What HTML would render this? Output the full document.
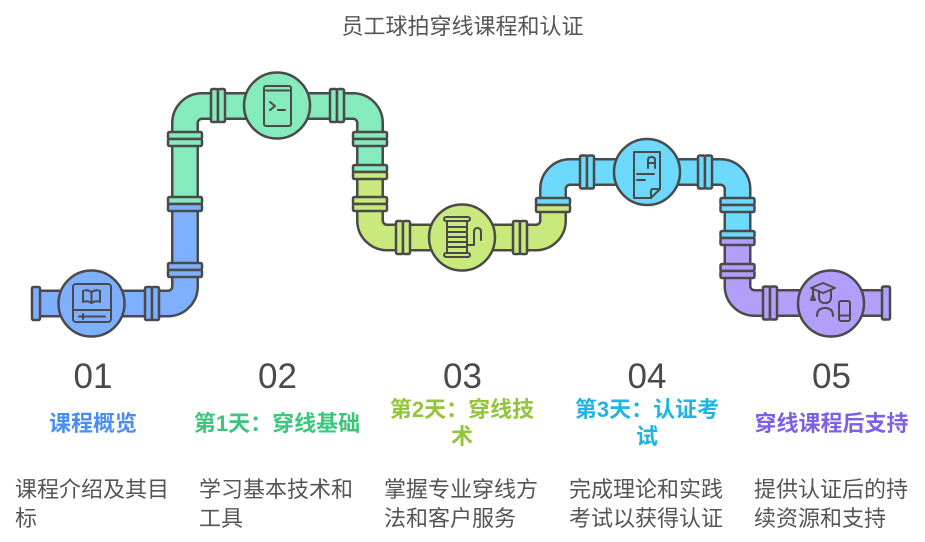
<!DOCTYPE html>
<html><head><meta charset="utf-8"><style>
html,body{margin:0;padding:0;background:#fff;}
body{width:925px;height:542px;position:relative;overflow:hidden;font-family:"Liberation Sans","Noto Sans CJK SC",sans-serif;}
.t{position:absolute;white-space:nowrap;}
.num{font-size:35px;line-height:35px;top:359px;width:100px;text-align:center;color:#4a4a4a;}
.ttl{font-size:22px;line-height:27px;font-weight:bold;width:220px;text-align:center;}
.dsc{font-size:22px;line-height:29px;top:475px;color:#555;}
</style></head><body>
<svg width="925" height="542" style="position:absolute;left:0;top:0" xmlns="http://www.w3.org/2000/svg">
<g fill="none" stroke-linecap="butt" stroke-linejoin="round">
<path d="M36 303.5 H168 A17 17 0 0 0 185 286.5 V123 A17 17 0 0 1 202 106 H353 A17 17 0 0 1 370 123 V220.5 A17 17 0 0 0 387 237.5 H536 A17 17 0 0 0 553 220.5 V189 A17 17 0 0 1 570 172 H720.5 A17 17 0 0 1 737.5 189 V286 A17 17 0 0 0 754.5 303 H886" stroke="#4a4a4a" stroke-width="28"/>
<path d="M36 303.5 H168 A17 17 0 0 0 185 286.5 V204" stroke="#7fb0ff" stroke-width="23"/>
<path d="M185 204 V123 A17 17 0 0 1 202 106 H353 A17 17 0 0 1 370 123 V171" stroke="#85ebbc" stroke-width="23"/>
<path d="M370 171 V220.5 A17 17 0 0 0 387 237.5 H536 A17 17 0 0 0 553 220.5 V204" stroke="#c9e97d" stroke-width="23"/>
<path d="M553 204 V189 A17 17 0 0 1 570 172 H720.5 A17 17 0 0 1 737.5 189 V237" stroke="#6dd9fd" stroke-width="23"/>
<path d="M737.5 237 V286 A17 17 0 0 0 754.5 303 H886" stroke="#b19ff9" stroke-width="23"/>
</g>
<g stroke="#4a4a4a" stroke-width="2.5">
<!-- vertical-pipe flanges -->
<rect x="168" y="132" width="34" height="7" rx="1.5" fill="#85ebbc"/><rect x="168" y="139" width="34" height="7" rx="1.5" fill="#85ebbc"/>
<rect x="168" y="197" width="34" height="7" rx="1.5" fill="#85ebbc"/><rect x="168" y="204" width="34" height="7" rx="1.5" fill="#7fb0ff"/>
<rect x="168" y="263" width="34" height="7" rx="1.5" fill="#7fb0ff"/><rect x="168" y="270" width="34" height="7" rx="1.5" fill="#7fb0ff"/>
<rect x="353" y="132" width="34" height="7" rx="1.5" fill="#85ebbc"/><rect x="353" y="139" width="34" height="7" rx="1.5" fill="#85ebbc"/>
<rect x="353" y="165" width="34" height="7" rx="1.5" fill="#85ebbc"/><rect x="353" y="172" width="34" height="7" rx="1.5" fill="#c9e97d"/>
<rect x="353" y="197" width="34" height="7" rx="1.5" fill="#c9e97d"/><rect x="353" y="204" width="34" height="7" rx="1.5" fill="#c9e97d"/>
<rect x="536" y="198" width="34" height="7" rx="1.5" fill="#6dd9fd"/><rect x="536" y="205" width="34" height="7" rx="1.5" fill="#c9e97d"/>
<rect x="720.5" y="198" width="34" height="7" rx="1.5" fill="#6dd9fd"/><rect x="720.5" y="205" width="34" height="7" rx="1.5" fill="#6dd9fd"/>
<rect x="720.5" y="231" width="34" height="7" rx="1.5" fill="#6dd9fd"/><rect x="720.5" y="238" width="34" height="7" rx="1.5" fill="#b19ff9"/>
<rect x="720.5" y="264" width="34" height="7" rx="1.5" fill="#b19ff9"/><rect x="720.5" y="271" width="34" height="7" rx="1.5" fill="#b19ff9"/>
<!-- horizontal-pipe flanges -->
<rect x="32" y="287" width="8" height="33" rx="1.5" fill="#7fb0ff"/>
<rect x="145" y="287" width="7" height="33" rx="1.5" fill="#7fb0ff"/><rect x="152" y="287" width="7" height="33" rx="1.5" fill="#7fb0ff"/>
<rect x="211" y="89" width="7" height="33" rx="1.5" fill="#85ebbc"/><rect x="218" y="89" width="7" height="33" rx="1.5" fill="#85ebbc"/>
<rect x="330" y="89" width="7" height="33" rx="1.5" fill="#85ebbc"/><rect x="337" y="89" width="7" height="33" rx="1.5" fill="#85ebbc"/>
<rect x="396" y="221" width="7" height="33" rx="1.5" fill="#c9e97d"/><rect x="403" y="221" width="7" height="33" rx="1.5" fill="#c9e97d"/>
<rect x="513" y="221" width="7" height="33" rx="1.5" fill="#c9e97d"/><rect x="520" y="221" width="7" height="33" rx="1.5" fill="#c9e97d"/>
<rect x="580" y="155.5" width="7" height="33" rx="1.5" fill="#6dd9fd"/><rect x="587" y="155.5" width="7" height="33" rx="1.5" fill="#6dd9fd"/>
<rect x="698" y="155.5" width="7" height="33" rx="1.5" fill="#6dd9fd"/><rect x="705" y="155.5" width="7" height="33" rx="1.5" fill="#6dd9fd"/>
<rect x="763" y="286.5" width="7" height="33" rx="1.5" fill="#b19ff9"/><rect x="770" y="286.5" width="7" height="33" rx="1.5" fill="#b19ff9"/>
<rect x="882" y="286.5" width="8" height="33" rx="1.5" fill="#b19ff9"/>
<!-- circles -->
<circle cx="91.5" cy="303.5" r="33" fill="#7fb0ff"/>
<circle cx="277" cy="105.5" r="33" fill="#85ebbc"/>
<circle cx="462" cy="237.5" r="33" fill="#c9e97d"/>
<circle cx="647" cy="172" r="33" fill="#6dd9fd"/>
<circle cx="831" cy="303.5" r="33" fill="#b19ff9"/>
</g>
<g fill="none" stroke="#4a4a4a" stroke-width="2" stroke-linecap="round" stroke-linejoin="round">
<!-- icon 1 -->
<rect x="73" y="284" width="38" height="38" rx="3"/>
<path d="M73 310 H111"/>
<path d="M79 316.5 H105 M83 314 V319"/>
<path d="M83 291 Q87 289 91.5 292 Q96 289 100 291 V302 Q96 300 91.5 303 Q87 300 83 302 Z M91.5 292 V303"/>
<!-- icon 2 -->
<rect x="264" y="86" width="27" height="40" rx="2"/>
<path d="M266 90.5 H289"/>
<path d="M270 102 L275 106 L270 110 M278 110 H285"/>
<!-- icon 3 -->
<rect x="444" y="217" width="26" height="4" rx="2"/>
<rect x="444" y="253" width="26" height="4" rx="2"/>
<path d="M447 221 V253 M467 221 V253"/>
<path d="M447 227 H467 M447 232 H467 M447 237 H467 M447 242 H467 M447 247 H467"/>
<path d="M467 245 H474 V232 Q474 228 477.5 228 Q481 228 481 232 V240"/>
<!-- icon 4 -->
<path d="M634 152 H660 V189 L651 198 H634 Z"/>
<path d="M660 189 H653 Q651 189 651 191 V198"/>
<path d="M648 168 V160 Q648 157 651.5 157 Q655 157 655 160 V168 M648 163 H655"/>
<path d="M637 174 H654 M637 180 H645"/>
<!-- icon 5 -->
<path d="M811 288 L823 283 L835 288 L823 293 Z"/>
<path d="M813 289 V297"/>
<path d="M811 300 L813 295 L815 300 Z"/>
<path d="M819 291 V297 Q819 303 825 303 Q831 303 831 297 V291"/>
<path d="M817 316 Q817 308 825 308 Q833 308 833 316"/>
<rect x="839" y="301" width="11" height="20" rx="2"/>
<path d="M839 315.5 H850"/>
</g>
</svg>

<div class="t" style="left:0;width:925px;text-align:center;top:16px;font-size:22px;line-height:22px;color:#555;">员工球拍穿线课程和认证</div>

<div class="t num" style="left:43px;">01</div>
<div class="t num" style="left:227.5px;">02</div>
<div class="t num" style="left:412.5px;">03</div>
<div class="t num" style="left:597px;">04</div>
<div class="t num" style="left:781.5px;">05</div>

<div class="t ttl" style="left:-17px;top:409.5px;color:#4b8df5;">课程概览</div>
<div class="t ttl" style="left:167px;top:409.5px;color:#3cc67c;">第1天：穿线基础</div>
<div class="t ttl" style="left:352px;top:396px;color:#93c43a;">第2天：穿线技<br>术</div>
<div class="t ttl" style="left:537px;top:396px;color:#1fb4e4;">第3天：认证考<br>试</div>
<div class="t ttl" style="left:721.5px;top:409.5px;color:#7e60e8;">穿线课程后支持</div>

<div class="t dsc" style="left:15px;">课程介绍及其目<br>标</div>
<div class="t dsc" style="left:199px;">学习基本技术和<br>工具</div>
<div class="t dsc" style="left:384px;">掌握专业穿线方<br>法和客户服务</div>
<div class="t dsc" style="left:569px;">完成理论和实践<br>考试以获得认证</div>
<div class="t dsc" style="left:754px;">提供认证后的持<br>续资源和支持</div>
</body></html>
